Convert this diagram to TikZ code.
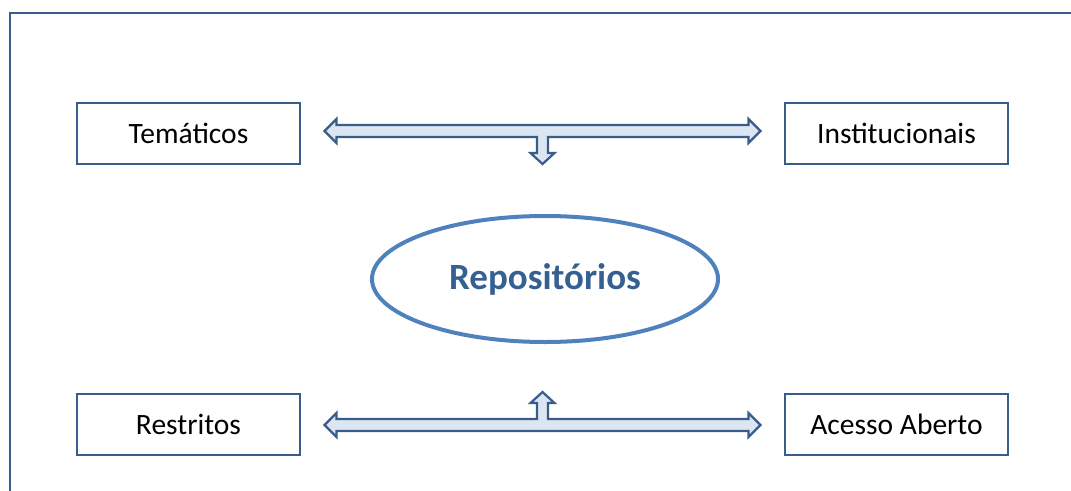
\documentclass[tikz,border=0pt]{standalone}
\usepackage{fontspec}
\setmainfont{Carlito}
\usetikzlibrary{shapes.geometric,calc}
\definecolor{frameblue}{HTML}{385D8A}
\definecolor{ringblue}{HTML}{4F81BD}
\definecolor{titleblue}{HTML}{376092}
\definecolor{arrowfill}{HTML}{DCE6F2}
\tikzset{
  catbox/.style={draw=frameblue, line width=2.2pt, fill=white, minimum width=223pt,
    minimum height=61pt, inner sep=0pt, font=\fontsize{29.5}{34}\selectfont, text=black},
  hub/.style={ellipse, draw=ringblue, line width=4pt, minimum width=346pt,
    minimum height=126pt, inner sep=0pt, text=titleblue,
    font=\fontsize{37}{42}\selectfont\bfseries},
  blockarrow/.style={draw=frameblue, fill=arrowfill, line width=2.2pt, line join=miter},
  outerframe/.style={draw=frameblue, line width=2.2pt}
}
\begin{document}
\begin{tikzpicture}[x=1pt, y=-1pt]
  \useasboundingbox (0,0) rectangle (1071,490);
  \clip (0,0) rectangle (1071,490);
  % outer frame, running past the right and bottom edges
  \draw[outerframe] (10,13) rectangle (1090,510);

  % category boxes
  \node[catbox] (tem)  at (188.5,133.5) {Temáticos};
  \node[catbox] (inst) at (896.5,133.5) {Institucionais};
  \node[catbox] (res)  at (188.5,424.5) {Restritos};
  \node[catbox] (aa)   at (896.5,424.5) {Acesso Aberto};

  % central ellipse
  \node[hub] (rep) at (545,279) {Repositórios};

  % junction points of the two T-shaped block arrows
  \coordinate (topmid) at ($(tem.east)!0.5!(inst.west)+(0,-2.5)$);
  \coordinate (botmid) at ($(res.east)!0.5!(aa.west)+(0,0.5)$);

  % upper double arrow with stem pointing down to the ellipse
  \begin{scope}[shift={(topmid)}]
    \draw[blockarrow] (-218,0) -- (-206,-12) -- (-206,-6) -- (206,-6) -- (206,-12)
      -- (218,0) -- (206,12) -- (206,6) -- (5.5,6) -- (5.5,22) -- (12,22) -- (0,33)
      -- (-12,22) -- (-5.5,22) -- (-5.5,6) -- (-206,6) -- (-206,12) -- cycle;
  \end{scope}

  % lower double arrow with stem pointing up to the ellipse
  \begin{scope}[shift={(botmid)}, yscale=-1]
    \draw[blockarrow] (-218,0) -- (-206,-12) -- (-206,-6) -- (206,-6) -- (206,-12)
      -- (218,0) -- (206,12) -- (206,6) -- (5.5,6) -- (5.5,22) -- (12,22) -- (0,33)
      -- (-12,22) -- (-5.5,22) -- (-5.5,6) -- (-206,6) -- (-206,12) -- cycle;
  \end{scope}
\end{tikzpicture}
\end{document}
